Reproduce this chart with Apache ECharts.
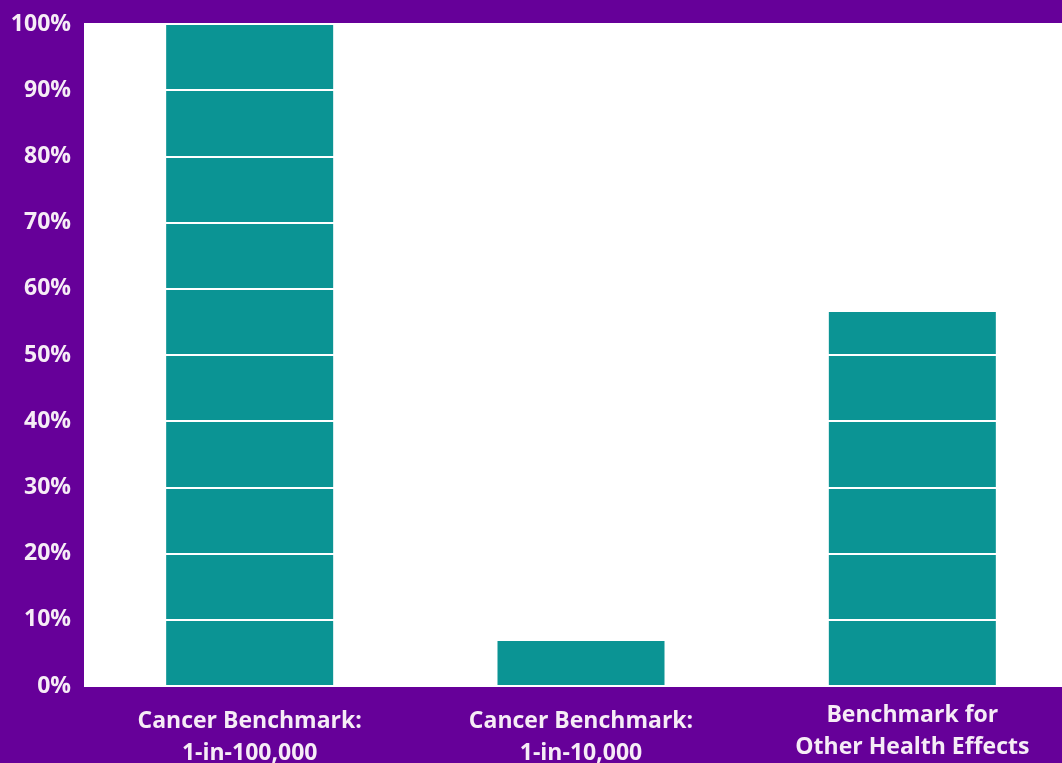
<!DOCTYPE html>
<html>
<head>
<meta charset="utf-8">
<script src="https://cdn.jsdelivr.net/npm/echarts@6/dist/echarts.min.js"></script>
<style>
  html, body { margin: 0; padding: 0; background: #660099; }
  #chart { width: 1062px; height: 763px; }
</style>
</head>
<body>
<div id="chart"></div>
<script>
// Share of facilities above each benchmark
const categories = ['Cancer Benchmark:\n1-in-100,000', 'Cancer Benchmark:\n1-in-10,000', 'Benchmark for\nOther Health Effects'];
const shares = [100, 6.8, 56.5];
const yTicks = [0, 10, 20, 30, 40, 50, 60, 70, 80, 90, 100];

// the two cancer labels sit a little lower than the third one
const labelTopPad = [6, 6, 0];

const chart = echarts.init(document.getElementById('chart'));
chart.setOption({
  backgroundColor: '#660099',
  animation: false,
  grid: {
    show: true,
    backgroundColor: '#ffffff',
    borderWidth: 0,
    left: 84,
    top: 24,
    width: 994,
    height: 662,
    outerBoundsMode: 'none',
    containLabel: false
  },
  xAxis: {
    type: 'category',
    data: categories.map((c, i) => ({ value: c, textStyle: { padding: [labelTopPad[i], 0, 0, 0] } })),
    axisLine: { show: false },
    axisTick: { show: false },
    axisLabel: {
      color: '#f6ecf6',
      fontFamily: 'Open Sans',
      fontWeight: 'bold',
      fontSize: 23,
      lineHeight: 32,
      margin: 13,
      interval: 0
    }
  },
  yAxis: {
    type: 'value',
    min: yTicks[0],
    max: yTicks[yTicks.length - 1],
    interval: 10,
    z: 5,
    axisLine: { show: false },
    axisTick: { show: false },
    splitLine: { show: true, lineStyle: { color: '#ffffff', width: 2 } },
    axisLabel: {
      color: '#f6ecf6',
      fontFamily: 'Open Sans',
      fontWeight: 'bold',
      fontSize: 23,
      margin: 13,
      formatter: v => v + '%'
    }
  },
  series: [{
    type: 'bar',
    data: shares,
    barWidth: 167,
    itemStyle: { color: '#0b9494' }
  }]
});
</script>
</body>
</html>
